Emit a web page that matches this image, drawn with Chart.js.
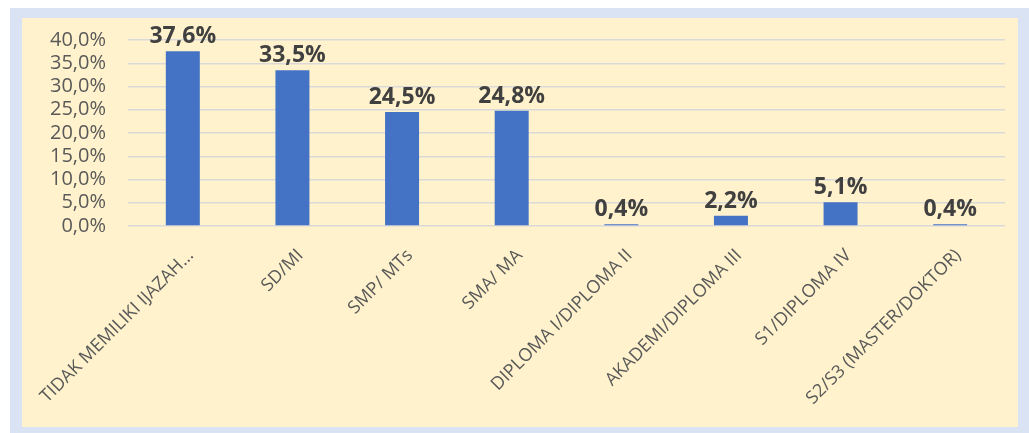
<!DOCTYPE html>
<html>
<head>
<meta charset="utf-8">
<script src="https://cdn.jsdelivr.net/npm/chart.js@4"></script>
<style>
  body { margin: 0; background: #fff; }
  #frame { position: absolute; left: 10px; top: 8px; width: 1019px; height: 425px; background: #DAE3F3; }
  #panel { position: absolute; left: 12px; top: 10px; width: 996px; height: 409px; background: #FFF2CC; }
</style>
</head>
<body>
<div id="frame">
  <div id="panel"><canvas id="grafico" width="996" height="409"></canvas></div>
</div>
<script>
const kategori = [
  "TIDAK MEMILIKI IJAZAH...",
  "SD/MI",
  "SMP/ MTs",
  "SMA/ MA",
  "DIPLOMA I/DIPLOMA II",
  "AKADEMI/DIPLOMA III",
  "S1/DIPLOMA IV",
  "S2/S3 (MASTER/DOKTOR)"
];
const persen = [37.6, 33.5, 24.5, 24.8, 0.4, 2.2, 5.1, 0.4];

function fmt(v) {
  return v.toFixed(1).replace(".", ",") + "%";
}

// etiquetas encima de cada barra
const etiquetas = {
  id: "etiquetas",
  afterDatasetsDraw(chart) {
    const c = chart.ctx;
    const meta = chart.getDatasetMeta(0);
    c.save();
    c.font = "bold 23px 'Open Sans'";
    c.fillStyle = "#404040";
    c.textAlign = "center";
    c.textBaseline = "alphabetic";
    meta.data.forEach((bar, i) => {
      c.fillText(fmt(persen[i]), bar.x, bar.y - 8);
    });
    c.restore();
  }
};

new Chart(document.getElementById("grafico"), {
  type: "bar",
  data: {
    labels: kategori,
    datasets: [{
      data: persen,
      backgroundColor: "#4472C4",
      categoryPercentage: 1,
      barPercentage: 0.31
    }]
  },
  plugins: [etiquetas],
  options: {
    responsive: false,
    animation: false,
    layout: { padding: { top: 22, right: 13, left: 0, bottom: 0 } },
    plugins: {
      legend: { display: false },
      tooltip: { enabled: false }
    },
    scales: {
      y: {
        min: 0,
        max: 40,
        afterFit: s => { s.width = 106; s.paddingTop = 0; s.paddingBottom = 0; },
        border: { display: false },
        grid: { color: "#D9D9D9", lineWidth: 1.5, drawTicks: false },
        ticks: {
          stepSize: 5,
          autoSkip: false,
          padding: 22,
          color: "#595959",
          font: { family: "Open Sans", size: 20 },
          callback: v => fmt(v)
        }
      },
      x: {
        afterFit: s => { s.height = 201; s.paddingLeft = 0; s.paddingRight = 0; },
        border: { display: false },
        grid: { display: false },
        ticks: {
          autoSkip: false,
          maxRotation: 45,
          minRotation: 45,
          padding: 11,
          labelOffset: 8,
          color: "#595959",
          font: { family: "Open Sans", size: 18 }
        }
      }
    }
  }
});
</script>
</body>
</html>
